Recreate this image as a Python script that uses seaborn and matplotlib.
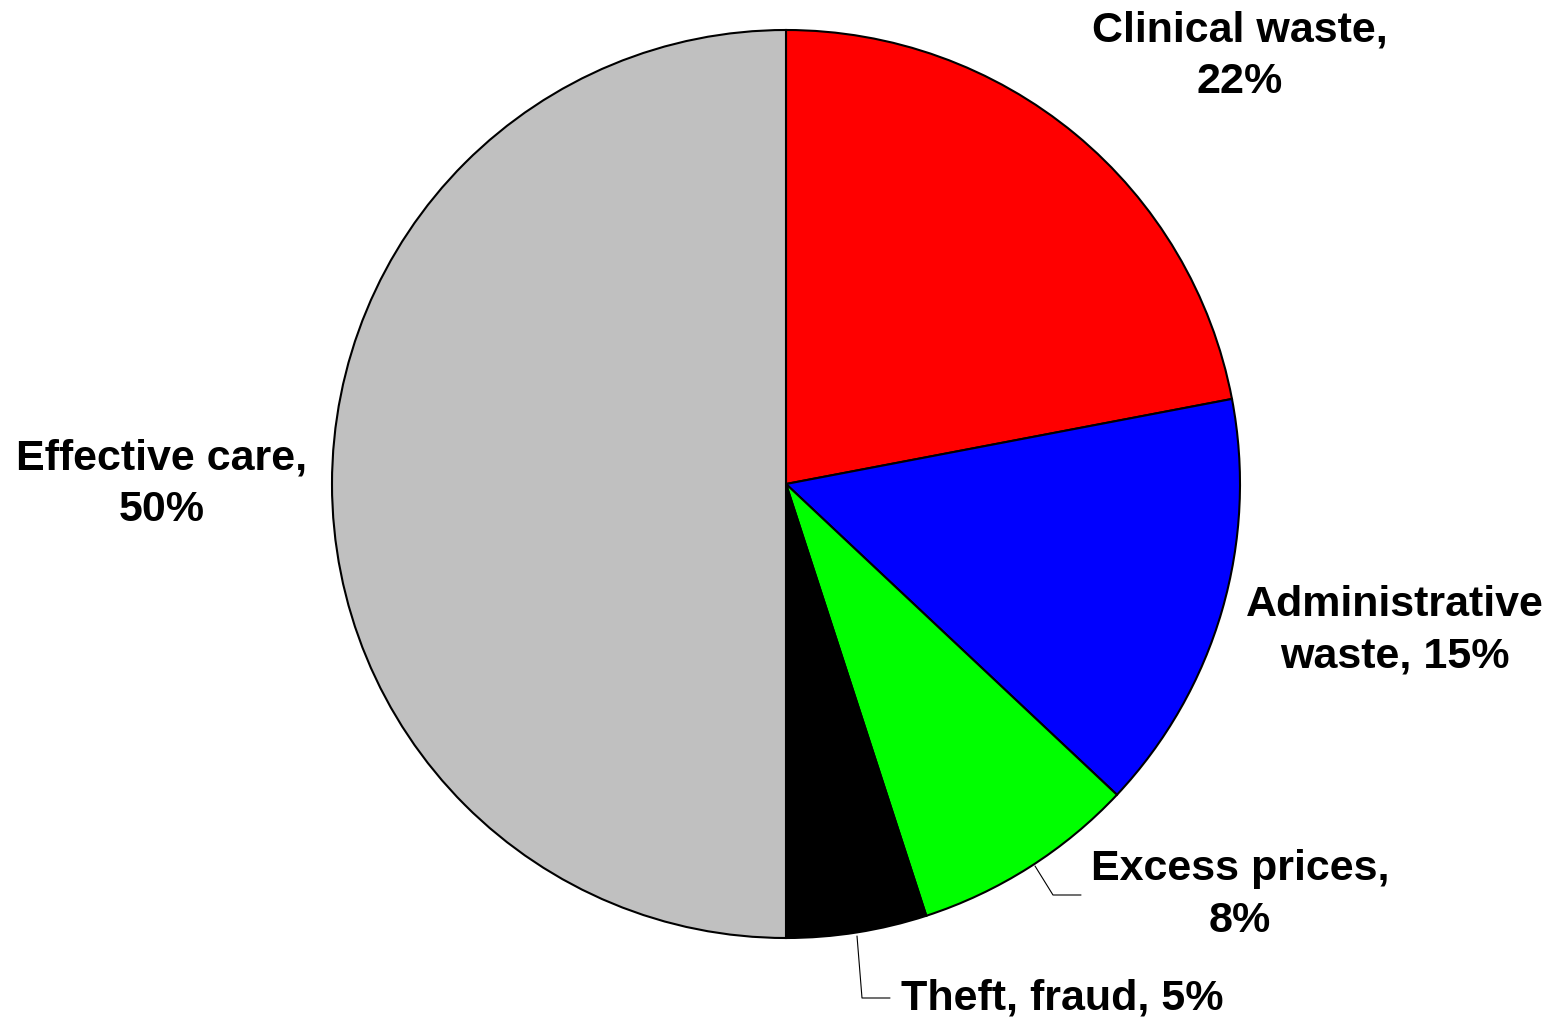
import matplotlib
matplotlib.use("Agg")
import matplotlib.pyplot as plt
import seaborn as sns

# Shares of health care spending
categories = ["Clinical waste", "Administrative waste", "Excess prices", "Theft, fraud", "Effective care"]
shares = [22, 15, 8, 5, 50]
colors = ["#ff0000", "#0000ff", "#00ff00", "#000000", "#c0c0c0"]
label_texts = ["Clinical waste,\n22%", "Administrative\nwaste, 15%", "Excess prices,\n8%",
               "Theft, fraud, 5%", "Effective care,\n50%"]

sns.set_theme(style="white")
plt.rcParams["font.family"] = ["Liberation Sans", "DejaVu Sans"]

W, H = 1560, 1021
fig = plt.figure(figsize=(W / 100, H / 100), dpi=100)
ax = fig.add_axes([0, 0, 1, 1])

cx, cy, r = 786, H - 484, 454
wedges, _ = ax.pie(shares, colors=colors, startangle=90, counterclock=False,
                   center=(cx, cy), radius=r, frame=True,
                   wedgeprops=dict(edgecolor="black", linewidth=1.5))
ax.set_xlim(0, W)
ax.set_ylim(0, H)
ax.axis("off")

fs = 31
label_pos = [(1240, 56), (1395, 631), (1240, 895), (1062, 998), (162, 484)]
for txt, (x, y) in zip(label_texts, label_pos):
    ax.text(x, H - y, txt, ha="center", va="center", fontsize=fs,
            fontweight="bold", color="black", linespacing=1.36)

# Leader lines for the two small slices
ax.plot([1035, 1053, 1081], [H - 866, H - 895, H - 895], color="black", lw=0.8)
ax.plot([857, 862, 890], [H - 936, H - 998, H - 998], color="black", lw=0.8)

fig.savefig("out.png", dpi=100)
